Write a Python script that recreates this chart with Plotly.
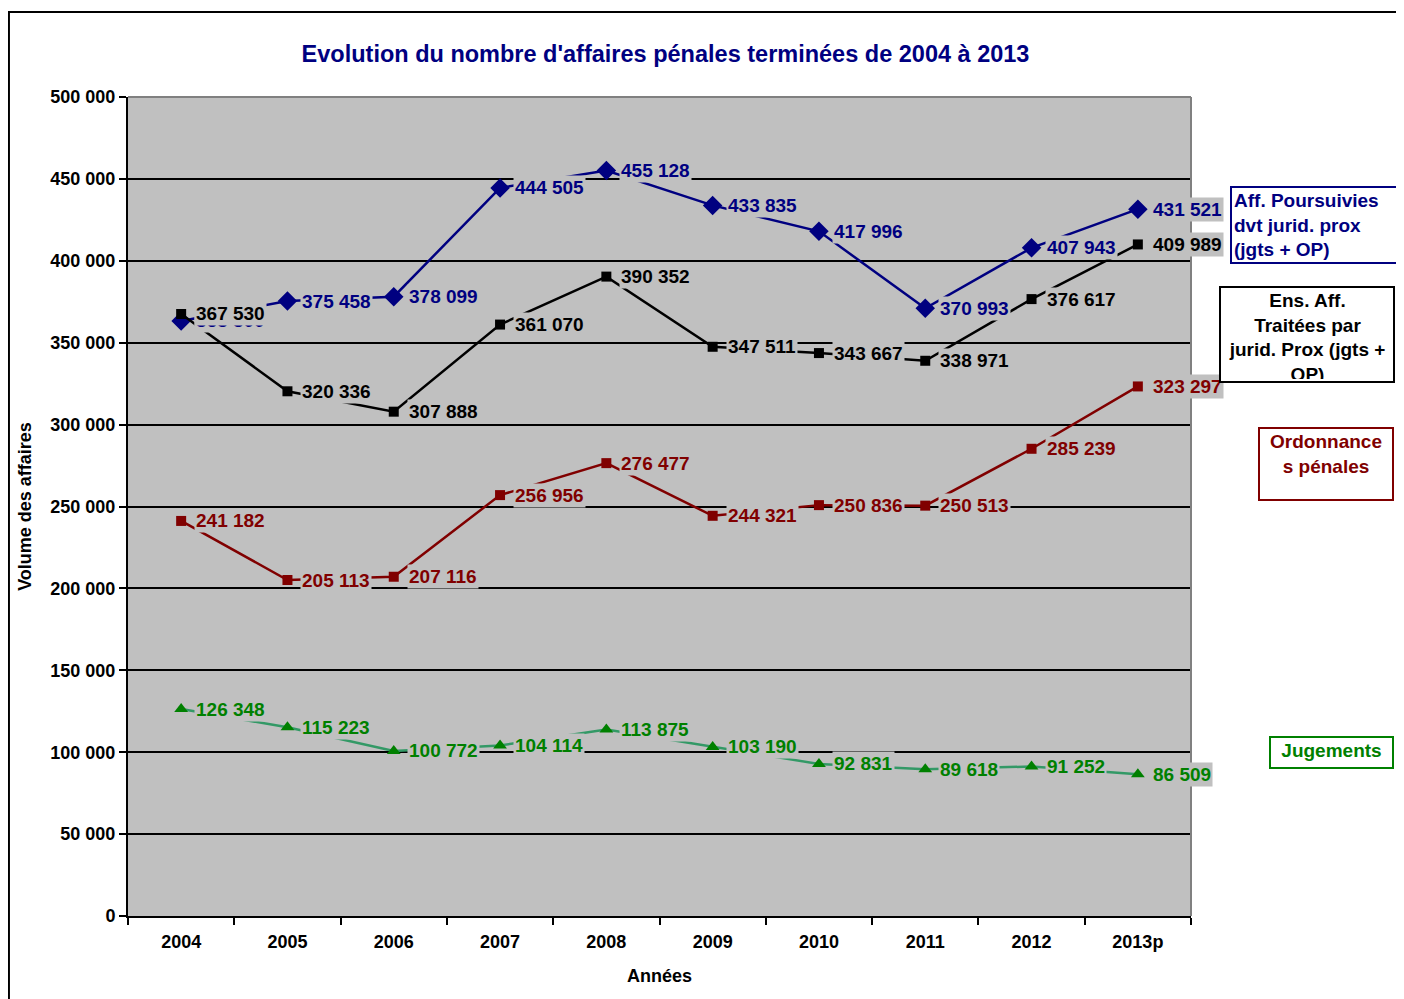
import plotly.graph_objects as go

annees = ["2004", "2005", "2006", "2007", "2008", "2009", "2010", "2011", "2012", "2013p"]

poursuivies = [363300, 375458, 378099, 444505, 455128, 433835, 417996, 370993, 407943, 431521]
ensemble = [367530, 320336, 307888, 361070, 390352, 347511, 343667, 338971, 376617, 409989]
ordonnances = [241182, 205113, 207116, 256956, 276477, 244321, 250836, 250513, 285239, 323297]
jugements = [126348, 115223, 100772, 104114, 113875, 103190, 92831, 89618, 91252, 86509]

FONT = "Liberation Sans, Arial, sans-serif"
PLOT_BG = "#C0C0C0"


def fmt(v):
    return f"{v:,}".replace(",", " ")


series = [
    # (values, line colour, marker colour, symbol, size, text colour)
    (poursuivies, "#000080", "#000080", "diamond", 15, "#000080"),
    (ordonnances, "#800000", "#800000", "square", 10, "#800000"),
    (jugements, "#339966", "#008000", "triangle-up", 12, "#008000"),
    (ensemble, "#000000", "#000000", "square", 10, "#000000"),
]

fig = go.Figure()
for vals, lc, mc, sym, sz, tc in series:
    fig.add_trace(go.Scatter(
        x=annees, y=vals, mode="lines+markers",
        line=dict(color=lc, width=2.5),
        marker=dict(symbol=sym, size=sz, color=mc),
        showlegend=False, hoverinfo="x+y",
    ))

# data labels with a grey background, like the Excel original
# (category index for x, since "2004" would be read as an index)
for vals, lc, mc, sym, sz, tc in series:
    for i, v in enumerate(vals):
        fig.add_annotation(
            x=i, y=v, text=fmt(v), showarrow=False,
            xanchor="left", yanchor="middle", xshift=13, yshift=0,
            font=dict(family=FONT, size=19, color=tc, weight="bold"),
            bgcolor=PLOT_BG, borderpad=1,
        )

# legend boxes on the right
legend = [
    ("Aff. Poursuivies<br>dvt jurid. prox<br>(jgts + OP)", "#000080", 1.0367, 0.8913, 180, 70, "left"),
    ("Ens. Aff.<br>Traitées par<br>jurid. Prox (jgts +<br>OP)", "#000000", 1.0263, 0.7692, 168, 89, "center"),
    ("Ordonnance<br>s pénales", "#800000", 1.0630, 0.5971, 128, 66, "center"),
    ("Jugements", "#008000", 1.0734, 0.2198, 117, 25, "center"),
]
for txt, col, x, y, w, h, al in legend:
    fig.add_annotation(
        x=x, y=y, xref="paper", yref="paper", text=txt, showarrow=False,
        xanchor="left", yanchor="top", align=al, valign="top",
        width=w, height=h, borderpad=2,
        bordercolor=col, borderwidth=2, bgcolor="white",
        font=dict(family=FONT, size=19, color=col, weight="bold"),
    )

# grey top/right border of the plot area, black outer frame
fig.add_shape(type="line", xref="paper", yref="paper", x0=0, x1=1, y0=1, y1=1,
              line=dict(color="#808080", width=2))
fig.add_shape(type="line", xref="paper", yref="paper", x0=1, x1=1, y0=0, y1=1,
              line=dict(color="#808080", width=2))
fig.add_shape(type="rect", xref="paper", yref="paper", x0=-0.1120, x1=1.4, y0=-0.2, y1=1.1038,
              line=dict(color="black", width=2))

fig.update_layout(
    width=1396, height=991,
    margin=dict(l=120, r=213, t=89, b=83),
    paper_bgcolor="white", plot_bgcolor=PLOT_BG,
    separators=", ",
    font=dict(family=FONT, color="black"),
    title=dict(
        text="Evolution du nombre d'affaires pénales terminées de 2004 à 2013",
        x=0.471, xanchor="center", y=0.9536, yanchor="middle",
        font=dict(family=FONT, size=23.5, color="#000080", weight="bold"),
    ),
    xaxis=dict(
        type="category", range=[-0.5, 9.5], tickson="boundaries",
        ticks="outside", ticklen=7, ticklabelstandoff=8,
        tickcolor="black", tickwidth=2, showline=True, linecolor="black", linewidth=2,
        showgrid=False, tickangle=0,
        tickfont=dict(family=FONT, size=18, color="black", weight="bold"),
        title=dict(text="Années", standoff=19,
                   font=dict(family=FONT, size=18, color="black", weight="bold")),
        automargin=False,
    ),
    yaxis=dict(
        range=[0, 500000], dtick=50000, tickformat=",d",
        ticks="outside", ticklen=7, tickcolor="black", tickwidth=2,
        showline=True, linecolor="black", linewidth=2,
        gridcolor="black", gridwidth=1.5, zeroline=False,
        tickfont=dict(family=FONT, size=18, color="black", weight="bold"),
        title=dict(text="Volume des affaires", standoff=14,
                   font=dict(family=FONT, size=18, color="black", weight="bold")),
        automargin=False,
    ),
)

fig.write_html("out.html")
